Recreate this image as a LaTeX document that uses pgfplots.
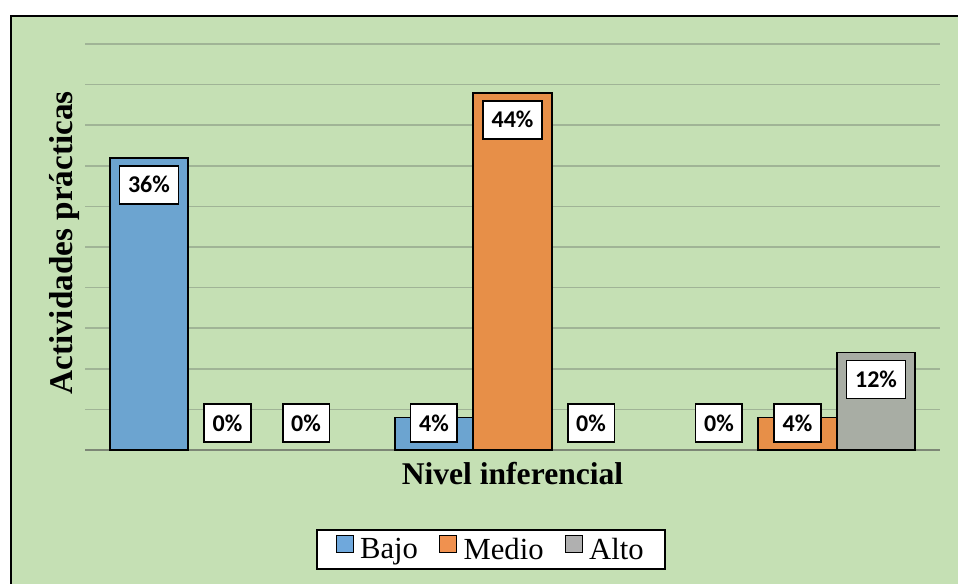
\documentclass[border=0pt]{standalone}
\usepackage{fontspec}
\setmainfont{Liberation Serif}
\newfontfamily\lblfont{Carlito}
\usepackage{pgfplots}
\usepackage{pgfplotstable}
\pgfplotsset{compat=1.18}

\definecolor{bgreen}{RGB}{197,224,180}
\definecolor{cbajo}{RGB}{108,164,208}
\definecolor{cmedio}{RGB}{231,143,72}
\definecolor{calto}{RGB}{168,173,164}
\definecolor{lbajo}{RGB}{111,168,220}
\definecolor{lmedio}{RGB}{240,145,79}
\definecolor{lalto}{RGB}{176,176,176}
\definecolor{gridc}{RGB}{160,180,150}
\definecolor{basec}{RGB}{125,135,118}

\pgfplotsset{
  sqleg/.style={legend image code/.code={%
    \draw[fill=#1, draw=black, line width=0.8pt] (0pt,-2.2pt) rectangle (12.75pt,10.5pt);
    \path (15pt,0pt);}},
  barra/.style={fill=#1, draw=black, line width=1.3pt, forget plot,
    y filter/.expression={y==0 ? nan : y}},
  etiq/.style={draw=none, fill=none, forget plot,
    nodes near coords={\pgfmathprintnumber[fixed,precision=0,assume math mode=true]{\pgfplotspointmeta}\%}},
}

\pgfplotstableread{
x Bajo Medio Alto
0 36 0  0
1 4  44 0
2 0  4  12
}\datos

\begin{document}
\begin{tikzpicture}
\path[use as bounding box] (0,0) rectangle (718.5pt,438pt);
\clip (0,0) rectangle (718.5pt,438pt);
\fill[white] (0,0) rectangle (718.5pt,438pt);
\draw[fill=bgreen, line width=1.7pt] (8.25pt,-10pt) rectangle (730pt,426pt);
\begin{axis}[
  at={(63.75pt,100.5pt)}, anchor=south west,
  scale only axis, width=641.25pt, height=304.5pt,
  ybar=0pt, bar width=58.9pt,
  xmin=-0.5, xmax=2.5, ymin=0, ymax=50,
  xtick=\empty, ytick={5,10,...,50}, yticklabels={},
  ymajorgrids, grid style={gridc, line width=1.1pt},
  extra y ticks={0}, extra y tick labels={},
  extra y tick style={grid style={basec, line width=1.1pt}},
  axis line style={draw=none}, major tick length=0pt,
  clip=false,
  xlabel={Nivel inferencial},
  ylabel={Actividades prácticas},
  every axis x label/.style={at={(axis description cs:0.5,-0.0862)}, anchor=base, inner sep=0pt,
    font=\fontsize{23.7}{28}\selectfont\bfseries},
  every axis y label/.style={at={(axis description cs:-0.01404,0.51)}, rotate=90, anchor=base, inner sep=0pt,
    font=\fontsize{24.9}{28}\selectfont\bfseries},
  point meta=rawy,
  visualization depends on={rawy \as \rawy},
  every node near coord/.append style={anchor=center, fill=white, draw=black, line width=1.3pt,
    inner xsep=6.4pt, inner ysep=0pt, minimum height=28.5pt,
    font=\lblfont\bfseries\fontsize{18}{20}\selectfont,
    yshift={max(-20.25,20.25-6.09*\rawy)}},
  legend columns=3,
  legend style={at={(0.475,-0.245)}, anchor=center, draw=black, line width=1.5pt, fill=white,
    font=\fontsize{23}{26}\selectfont, inner xsep=14pt, inner ysep=4pt,
    /tikz/every even column/.append style={column sep=14pt}},
]
% barras
\addplot[barra=cbajo, bar shift=-58.9pt] table[x=x,y=Bajo]{\datos};
\addplot[barra=cmedio, bar shift=0pt] table[x=x,y=Medio]{\datos};
\addplot[barra=calto, bar shift=58.9pt] table[x=x,y=Alto]{\datos};
% etiquetas de datos
\addplot[etiq, bar shift=-58.9pt] table[x=x,y=Bajo]{\datos};
\addplot[etiq, bar shift=0pt] table[x=x,y=Medio]{\datos};
\addplot[etiq, bar shift=58.9pt] table[x=x,y=Alto]{\datos};
\addlegendimage{sqleg=lbajo}
\addlegendentry{Bajo}
\addlegendimage{sqleg=lmedio}
\addlegendentry{Medio}
\addlegendimage{sqleg=lalto}
\addlegendentry{Alto}
\end{axis}
\end{tikzpicture}
\end{document}
